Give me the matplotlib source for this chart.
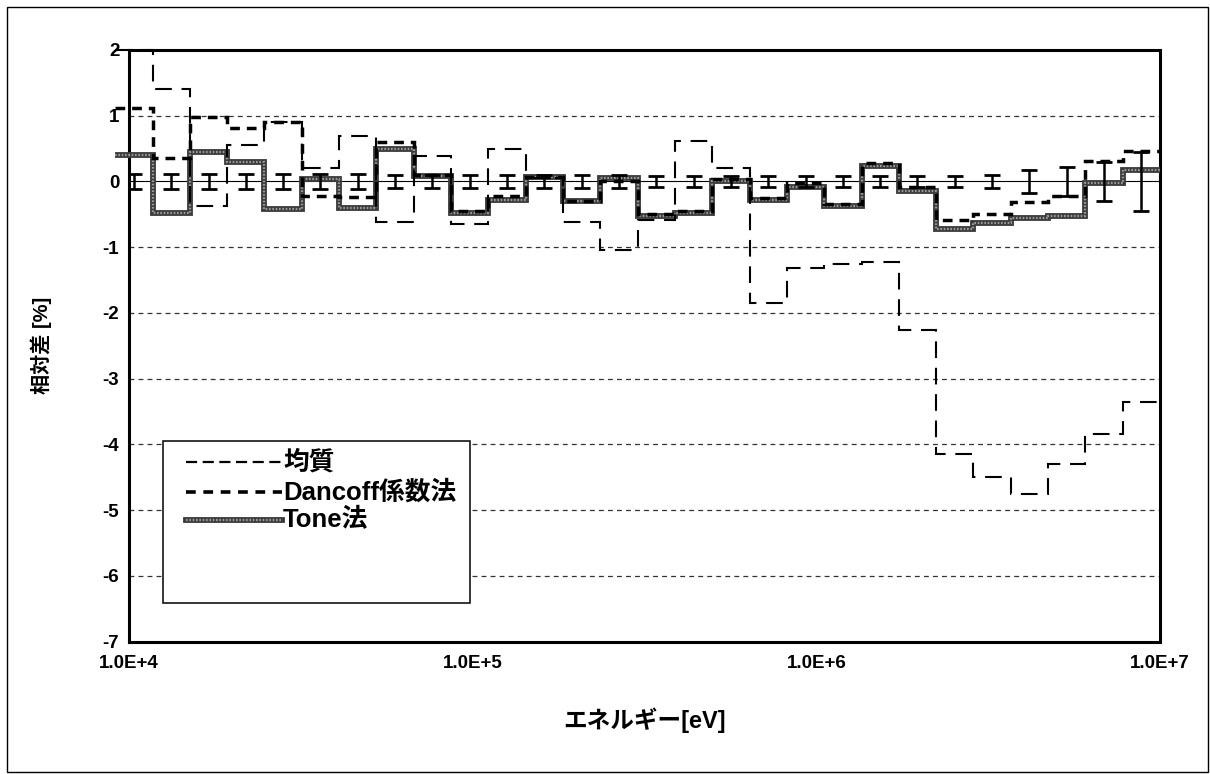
import numpy as np
import matplotlib
matplotlib.use("Agg")
import matplotlib.pyplot as plt
from matplotlib.patches import Rectangle
from matplotlib.lines import Line2D

plt.rcParams['font.family'] = ['Liberation Sans', 'Noto Sans CJK JP', 'DejaVu Sans']
plt.rcParams['font.weight'] = 'bold'
plt.rcParams['lines.scale_dashes'] = False

# Energy group boundaries [eV], lethargy width 0.25 (ascending)
group_edges = [9.1188e3, 1.1709e4, 1.5034e4, 1.9305e4, 2.4788e4, 3.1828e4,
               4.0868e4, 5.2475e4, 6.7379e4, 8.6517e4, 1.1109e5, 1.4264e5,
               1.8316e5, 2.3518e5, 3.0197e5, 3.8774e5, 4.9787e5, 6.3928e5,
               8.2085e5, 1.0540e6, 1.3534e6, 1.7377e6, 2.2313e6, 2.8650e6,
               3.6788e6, 4.7237e6, 6.0653e6, 7.7880e6, 1.0e7]

# Relative difference [%] per group
homogeneous = [2.00, 1.40, -0.37, 0.56, 0.90, 0.20, 0.69, -0.61, 0.39, -0.65,
               0.49, 0.05, -0.62, -1.05, -0.58, 0.62, 0.21, -1.85, -1.32, -1.25,
               -1.22, -2.26, -4.15, -4.50, -4.75, -4.30, -3.85, -3.35]
dancoff = [1.12, 0.36, 0.98, 0.82, 0.90, -0.22, -0.23, 0.60, 0.10, -0.45,
           -0.22, 0.07, -0.30, 0.00, -0.50, -0.45, 0.03, -0.25, -0.02, -0.35,
           0.28, -0.08, -0.58, -0.50, -0.32, -0.22, 0.31, 0.47]
tone = [0.40, -0.48, 0.45, 0.29, -0.42, 0.03, -0.40, 0.49, 0.09, -0.48,
        -0.28, 0.07, -0.29, 0.05, -0.52, -0.48, 0.01, -0.28, -0.08, -0.38,
        0.24, -0.15, -0.72, -0.63, -0.56, -0.53, -0.03, 0.17]
# Statistical uncertainty of the reference calculation [%]
sigma = [0.12, 0.12, 0.12, 0.12, 0.12, 0.12, 0.12, 0.10, 0.10, 0.10,
         0.10, 0.10, 0.10, 0.10, 0.09, 0.09, 0.09, 0.09, 0.09, 0.09,
         0.08, 0.08, 0.08, 0.10, 0.17, 0.22, 0.30, 0.45]

series_labels = ['均質', 'Dancoff係数法', 'Tone法']
x_ticks = [1e4, 1e5, 1e6, 1e7]
x_tick_labels = ['1.0E+4', '1.0E+5', '1.0E+6', '1.0E+7']
y_ticks = [2, 1, 0, -1, -2, -3, -4, -5, -6, -7]

W, H = 1210, 774
AX_L, AX_R, AX_T, AX_B = 129, 1160, 50, 641.5

fig = plt.figure(figsize=(W / 100, H / 100), dpi=100)
ax = fig.add_axes([AX_L / W, 1 - AX_B / H, (AX_R - AX_L) / W, (AX_B - AX_T) / H])


def ax_frac(px, py):
    return (px - AX_L) / (AX_R - AX_L), (AX_B - py) / (AX_B - AX_T)


ax.set_xscale('log')
ax.set_xlim(1e4, 1e7)
ax.set_ylim(-7, 2)

# horizontal grid
for yv in y_ticks:
    if yv in (2, -7):
        continue
    if yv == 0:
        ax.axhline(0, color='black', lw=0.8, zorder=1)
    else:
        ax.axhline(yv, color='#333333', lw=0.9, linestyle=(0, (3.5, 3.0)), zorder=1)

edges = np.array(group_edges)
centers = np.sqrt(edges[:-1] * edges[1:])

ls_homog = (0, (12, 7))
ls_danc = (0, (7, 5))
tone_dark, tone_light = '#3c3c3c', '#9a9a9a'
tone_speckle = (0, (1.2, 1.2))

ax.stairs(tone, edges, baseline=None, color=tone_dark, lw=4.2, zorder=3, clip_on=False)
ax.stairs(tone, edges, baseline=None, color=tone_light, lw=1.6, linestyle=tone_speckle,
          zorder=3, clip_on=False)
ax.stairs(dancoff, edges, baseline=None, color='black', lw=2.5, linestyle=ls_danc,
          zorder=4, clip_on=False)
ax.stairs(homogeneous, edges, baseline=None, color='black', lw=1.5, linestyle=ls_homog,
          zorder=4, clip_on=False)

ax.errorbar(centers, np.zeros(len(centers)), yerr=sigma, fmt='none', ecolor='black',
            elinewidth=1.8, capsize=5.5, capthick=2.0, zorder=5)

ax.set_xticks(x_ticks)
ax.set_xticklabels(x_tick_labels, fontsize=13.5, fontweight='bold')
ax.xaxis.set_minor_locator(matplotlib.ticker.NullLocator())
ax.set_yticks(y_ticks)
ax.set_yticklabels([str(v) for v in y_ticks], fontsize=13.5, fontweight='bold')
ax.tick_params(axis='both', length=0)
ax.tick_params(axis='x', pad=10)
ax.tick_params(axis='y', pad=7)

for sp in ax.spines.values():
    sp.set_linewidth(2.2)

fig.text(645 / W, 1 - 720 / H, 'エネルギー[eV]', fontsize=17, fontweight='bold',
         ha='center', va='center')
fig.text(41 / W, 1 - 345 / H, '相対差 [%]', fontsize=14.5, fontweight='bold',
         rotation=90, ha='center', va='center')

# legend box drawn in pixel layout
x0, y0 = ax_frac(163, 603)
x1, y1 = ax_frac(470, 441)
ax.add_patch(Rectangle((x0, y0), x1 - x0, y1 - y0, transform=ax.transAxes,
                       facecolor='white', edgecolor='black', lw=1.1, zorder=6))
rows = [462, 492, 520]
styles = [
    [dict(color='black', lw=1.6, linestyle=(0, (8, 4)))],
    [dict(color='black', lw=2.6, linestyle=(0, (7, 5.5)))],
    [dict(color=tone_dark, lw=4.2), dict(color=tone_light, lw=1.6, linestyle=tone_speckle)],
]
for ry, label, sty in zip(rows, series_labels, styles):
    lx0, ly = ax_frac(186, ry)
    lx1, _ = ax_frac(282, ry)
    for s in sty:
        ax.add_line(Line2D([lx0, lx1], [ly, ly], transform=ax.transAxes, zorder=7, **s))
    tx, _ = ax_frac(283, ry)
    ax.text(tx, ly, label, transform=ax.transAxes, fontsize=18.5, fontweight='bold',
            ha='left', va='center', zorder=7)

# chart area border
fig.patches.append(Rectangle((7 / W, 0.002), 1 - 9 / W, 1 - 9 / H,
                             transform=fig.transFigure, fill=False,
                             edgecolor='black', lw=1.0))

fig.savefig('out.png', dpi=100)
